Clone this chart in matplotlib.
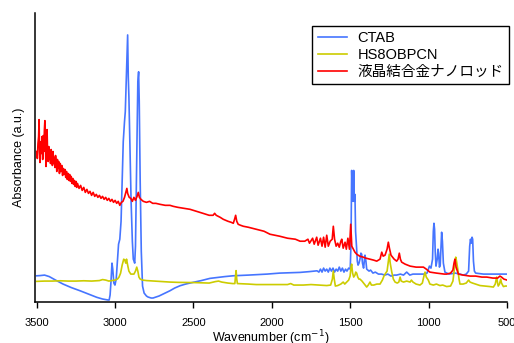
import numpy as np
import matplotlib
matplotlib.use('Agg')
import matplotlib.pyplot as plt

plt.rcParams['font.family'] = ['Liberation Sans', 'Noto Sans CJK JP', 'DejaVu Sans']

labels = ['CTAB', 'HS8OBPCN', '液晶結合金ナノロッド']
colors = ['#4675ff', '#cccc00', '#ff0000']
xticks = [3500, 3000, 2500, 2000, 1500, 1000, 500]

# (wavenumber, absorbance a.u.)
ctab = [(3500, 25.3), (3479, 25.5), (3450, 26), (3420, 24.5), (3380, 21), (3332, 17), (3280, 13.5),
        (3224, 10.3), (3170, 7), (3117, 3.7), (3080, 2), (3045, 1), (3038, 1), (3032, 6), (3026, 20),
        (3020, 38), (3015, 32), (3008, 18), (3001, 16), (2993, 22), (2985, 40), (2978, 57), (2970, 62),
        (2962, 80), (2955, 120), (2948, 160), (2940, 180), (2935, 190), (2930, 215), (2925, 240),
        (2920, 267), (2916, 225), (2912, 205), (2905, 150), (2898, 100), (2890, 60), (2884, 42),
        (2879, 40), (2875, 38), (2870, 55), (2862, 140), (2855, 220), (2850, 230), (2846, 200),
        (2840, 120), (2833, 50), (2825, 15), (2815, 8), (2800, 5), (2790, 4), (2770, 3), (2758, 3),
        (2720, 5), (2680, 8), (2650, 10.3), (2620, 13), (2586, 15.3), (2550, 17), (2503, 18.7),
        (2450, 20.5), (2395, 22.7), (2300, 24.5), (2248, 25.3), (2150, 26), (2031, 27), (1950, 28),
        (1820, 28.7), (1760, 29.5), (1712, 30.3), (1700, 29), (1690, 32), (1680, 29), (1670, 33),
        (1660, 30), (1650, 32), (1640, 29), (1630, 33), (1620, 30), (1610, 33), (1600, 29), (1590, 32),
        (1580, 30), (1570, 34), (1560, 30), (1550, 33), (1540, 29), (1530, 32), (1521, 30), (1510, 33),
        (1500, 32), (1495, 60), (1491, 131), (1487, 110), (1482, 100), (1478, 131), (1474, 100),
        (1470, 107), (1466, 70), (1462, 60), (1459, 52), (1455, 40), (1450, 36), (1444, 38), (1438, 42),
        (1432, 48), (1427, 47), (1422, 38), (1415, 33), (1410, 40), (1406, 46), (1400, 40), (1395, 32),
        (1380, 30), (1370, 31), (1355, 28), (1340, 29), (1320, 27), (1300, 27), (1280, 26), (1260, 27),
        (1240, 25), (1220, 26), (1204, 26), (1180, 27), (1160, 26), (1140, 29), (1120, 26), (1100, 27),
        (1080, 27), (1055, 27), (1030, 27), (1010, 28), (995, 35), (985, 33), (975, 42), (970, 70),
        (966, 78), (962, 72), (958, 50), (953, 35), (945, 42), (940, 52), (936, 48), (931, 34), (926, 36),
        (921, 55), (917, 69), (912, 60), (906, 38), (896, 29), (870, 27), (830, 28), (800, 27), (779, 26),
        (760, 27), (745, 30), (738, 55), (733, 62), (728, 58), (723, 64), (719, 62), (714, 40), (708, 30),
        (700, 28), (650, 27), (600, 27), (550, 27), (500, 27)]

hs8obpcn = [(3500, 19.7), (3450, 20), (3400, 20), (3350, 20.3), (3300, 20), (3250, 20), (3200, 20.3),
            (3150, 20), (3100, 20.5), (3080, 21.5), (3060, 21), (3040, 20), (3020, 20.5), (3000, 21),
            (2985, 22), (2975, 24), (2965, 28), (2955, 36), (2945, 42), (2938, 41), (2932, 38), (2927, 42),
            (2920, 36), (2912, 30), (2900, 27), (2890, 27), (2880, 27), (2870, 30), (2862, 34), (2855, 30),
            (2848, 24), (2840, 22), (2825, 21), (2800, 20.5), (2750, 20), (2700, 19.5), (2650, 19),
            (2600, 18.7), (2500, 18.5), (2400, 18), (2360, 19.5), (2340, 20), (2320, 19), (2280, 18),
            (2250, 17.5), (2236, 17.5), (2232, 25), (2228, 30.5), (2224, 22), (2220, 17.5), (2150, 17),
            (2100, 16.5), (2000, 16.5), (1900, 16.5), (1880, 17.5), (1860, 16), (1800, 16), (1750, 16.5),
            (1700, 16), (1650, 15.5), (1625, 16), (1614, 22), (1608, 30), (1602, 22), (1595, 15),
            (1580, 15.5), (1560, 17), (1545, 19), (1535, 17), (1522, 19), (1510, 21), (1501, 25),
            (1495, 34), (1491, 37), (1485, 28), (1478, 24), (1470, 26), (1465, 29), (1459, 28), (1452, 24),
            (1445, 22), (1438, 22), (1425, 20), (1410, 17), (1395, 14), (1385, 16), (1374, 19), (1365, 16),
            (1350, 16), (1330, 17), (1310, 17), (1295, 21), (1285, 25), (1278, 27), (1265, 30), (1257, 40),
            (1251, 47), (1245, 38), (1235, 29), (1225, 22), (1214, 19), (1200, 18), (1190, 19), (1182, 24),
            (1175, 20), (1160, 19), (1140, 20), (1118, 19), (1110, 21), (1100, 19), (1080, 17), (1055, 16),
            (1040, 18), (1030, 25), (1023, 29), (1015, 24), (1002, 21), (992, 17), (970, 16), (950, 17),
            (928, 15.5), (910, 16), (885, 14.5), (860, 15), (845, 20), (838, 29), (832, 38), (827, 44),
            (822, 40), (814, 32), (806, 22), (800, 17), (780, 17), (760, 18), (745, 21), (736, 19),
            (720, 18), (700, 17), (672, 15.5), (640, 15), (610, 14.5), (587, 14), (575, 17), (566, 24),
            (560, 18), (556, 15), (548, 17), (540, 22), (535, 18), (523, 14.5), (510, 15), (500, 15)]

nanorod = [(3500, 150), (3496, 143), (3492, 158), (3488, 165), (3485, 182), (3482, 150), (3479, 139),
           (3476, 155), (3472, 160), (3469, 148), (3466, 165), (3462, 142), (3458, 166), (3455, 150),
           (3451, 172), (3448, 181), (3445, 160), (3441, 135), (3438, 148), (3434, 172), (3431, 150),
           (3427, 140), (3423, 155), (3420, 142), (3416, 150), (3412, 138), (3408, 152), (3404, 145),
           (3400, 136), (3396, 150), (3392, 138), (3388, 144), (3384, 134), (3380, 146), (3376, 140),
           (3372, 130), (3368, 142), (3364, 133), (3360, 140), (3355, 128), (3350, 138), (3345, 130),
           (3340, 136), (3335, 126), (3330, 133), (3325, 127), (3320, 132), (3315, 124), (3310, 130),
           (3305, 122), (3300, 128), (3295, 121), (3290, 127), (3285, 120), (3280, 125), (3275, 118),
           (3270, 123), (3265, 117), (3260, 121), (3255, 115), (3250, 120), (3245, 114), (3240, 118),
           (3230, 113), (3220, 116), (3210, 111), (3200, 114), (3190, 109), (3180, 112), (3170, 108),
           (3160, 110), (3150, 106), (3140, 109), (3130, 105), (3120, 107), (3110, 104), (3100, 106),
           (3090, 103), (3080, 105), (3070, 102), (3060, 104), (3050, 101), (3040, 103), (3030, 100),
           (3020, 102), (3010, 99), (3000, 101), (2990, 98), (2980, 100), (2970, 96), (2960, 99),
           (2950, 100), (2940, 104), (2930, 110), (2925, 113), (2920, 108), (2910, 104), (2900, 103),
           (2890, 100), (2880, 104), (2870, 101), (2860, 105), (2852, 109), (2845, 104), (2835, 102),
           (2820, 100), (2800, 99), (2780, 100), (2760, 98), (2740, 98), (2713, 97), (2680, 96),
           (2650, 96), (2629, 95), (2600, 94), (2560, 93), (2522, 92), (2480, 90), (2440, 88), (2400, 86),
           (2375, 86), (2365, 88), (2355, 86), (2330, 84), (2310, 82), (2280, 80), (2260, 79), (2246, 78),
           (2238, 82), (2231, 86), (2224, 80), (2215, 77), (2200, 76), (2182, 75), (2150, 74), (2100, 72),
           (2050, 70), (2012, 67), (1950, 65), (1900, 63), (1850, 62), (1820, 60), (1790, 60), (1770, 62),
           (1760, 58), (1740, 63), (1730, 57), (1714, 64), (1705, 56), (1690, 63), (1680, 55), (1670, 64),
           (1660, 54), (1650, 66), (1640, 55), (1628, 60), (1615, 62), (1608, 75), (1600, 62), (1590, 55),
           (1580, 58), (1570, 54), (1560, 60), (1554, 62), (1545, 53), (1533, 59), (1525, 52), (1515, 63),
           (1505, 52), (1497, 77), (1490, 55), (1480, 52), (1470, 49), (1459, 47), (1440, 45), (1417, 44),
           (1400, 43), (1374, 42), (1350, 41), (1331, 40), (1310, 42), (1299, 49), (1290, 45), (1278, 46),
           (1265, 52), (1257, 59), (1250, 53), (1240, 46), (1235, 45), (1220, 42), (1204, 40), (1195, 42),
           (1187, 48), (1180, 42), (1172, 39), (1150, 37), (1118, 35), (1080, 34), (1050, 34), (1033, 34),
           (1015, 32), (992, 29), (950, 28), (900, 27), (885, 27), (860, 28), (845, 31), (838, 38),
           (832, 42), (825, 34), (810, 27), (780, 26), (736, 25), (700, 25), (660, 24), (629, 24),
           (590, 23), (560, 23), (545, 25), (535, 24), (520, 22), (500, 21)]

fig = plt.figure(figsize=(5.14, 3.43), dpi=100)
ax = fig.add_axes([35 / 514, 41 / 343, 472 / 514, 289 / 343])

for data, lab, col in zip([ctab, hs8obpcn, nanorod], labels, colors):
    wn, ab = np.array(data).T
    ax.plot(wn, ab, color=col, lw=1.2, label=lab)

ax.set_xlim(3511, 500)
ax.set_ylim(-1, 289)
ax.set_xticks(xticks)
ax.set_yticks([])
ax.tick_params(axis='x', direction='out', length=4, width=1, pad=7.5, labelsize=8)
for s in ['top', 'right']:
    ax.spines[s].set_visible(False)
for s in ['left', 'bottom']:
    ax.spines[s].set_linewidth(1.1)

ax.set_ylabel('Absorbance (a.u.)', fontsize=9)
ax.yaxis.set_label_coords(-0.022, 0.5)
ax.set_xlabel('Wavenumber (cm$^{-1}$)', fontsize=9)
ax.xaxis.set_label_coords(0.5, -0.092)
ax.xaxis.label.set_va('top')

leg = ax.legend(loc='upper right', bbox_to_anchor=(509 / 514, 1 - 26 / 343), bbox_transform=fig.transFigure,
                borderaxespad=0, fancybox=False, framealpha=1, edgecolor='black', fontsize=10.5,
                handlelength=2.0, handletextpad=0.75, labelspacing=0.2, borderpad=0.35)
leg.get_frame().set_linewidth(1.0)

fig.savefig('out.png', dpi=100)
